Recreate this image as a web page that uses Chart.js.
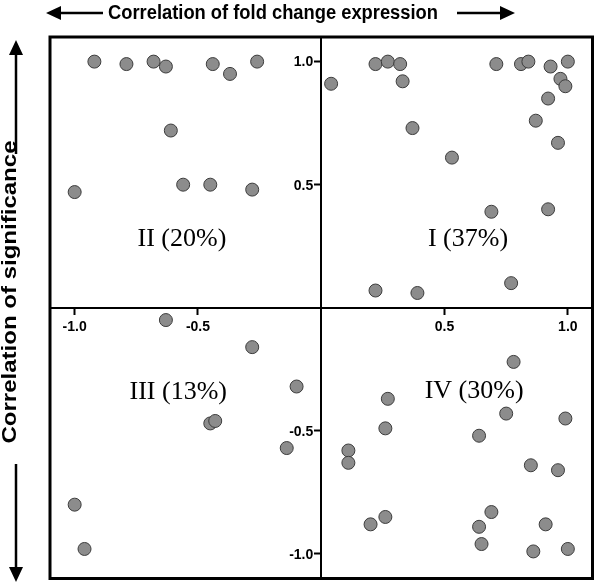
<!DOCTYPE html>
<html>
<head>
<meta charset="utf-8">
<script src="https://cdn.jsdelivr.net/npm/chart.js@4.4.1/dist/chart.umd.min.js"></script>
<style>
  html, body { margin: 0; padding: 0; background: #fff; }
  #wrap { width: 600px; height: 586px; }
</style>
</head>
<body>
<div id="wrap"><canvas id="quadChart"></canvas></div>
<script>
// ── Data ──────────────────────────────────────────────────────
// x = correlation of fold change expression, y = correlation of significance
const foldCorr = [
  // II
  -0.92, -0.79, -0.68, -0.63, -0.44, -0.37, -0.26, -0.61, -0.56, -0.45, -0.28, -1.00,
  // I
  0.04, 0.22, 0.27, 0.32, 0.33, 0.37, 0.53, 0.71, 0.81, 0.84, 0.93, 1.00,
  0.97, 0.99, 0.92, 0.87, 0.96, 0.69, 0.92, 0.22, 0.39, 0.77,
  // III
  -0.63, -0.28, -0.10, -0.45, -0.43, -0.14, -1.00, -0.96,
  // IV
  0.78, 0.27, 0.26, 0.11, 0.11, 0.75, 0.99, 0.64, 0.85, 0.96,
  0.20, 0.26, 0.69, 0.64, 0.65, 0.91, 0.86, 1.00,
];
const sigCorr = [
  1.00, 0.99, 1.00, 0.98, 0.99, 0.95, 1.00, 0.72, 0.50, 0.50, 0.48, 0.47,
  0.91, 0.99, 1.00, 0.99, 0.92, 0.73, 0.61, 0.99, 0.99, 1.00, 0.98, 1.00,
  0.93, 0.90, 0.85, 0.76, 0.67, 0.39, 0.40, 0.07, 0.06, 0.10,
  -0.05, -0.16, -0.32, -0.47, -0.46, -0.57, -0.80, -0.98,
  -0.22, -0.37, -0.49, -0.58, -0.63, -0.43, -0.45, -0.52, -0.64, -0.66,
  -0.88, -0.85, -0.83, -0.89, -0.96, -0.88, -0.99, -0.98,
];
const xTicks = [-1.0, -0.5, 0.5, 1.0];
const yTicks = [-1.0, -0.5, 0.5, 1.0];
const quadLabels = ['II (20%)', 'I (37%)', 'III (13%)', 'IV (30%)'];
const quadLabelX = [-0.565, 0.595, -0.58, 0.62];
const quadLabelY = [0.28, 0.28, -0.345, -0.34];

const SANS = '"Liberation Sans", Arial, sans-serif';
const SERIF = '"Liberation Serif", "Times New Roman", serif';
const TICK_FONT = `bold 14px ${SANS}`;

function drawArrow(ctx, x1, y1, x2, y2) {
  const ang = Math.atan2(y2 - y1, x2 - x1);
  const head = 15, half = 7;
  const bx = x2 - head * Math.cos(ang), by = y2 - head * Math.sin(ang);
  ctx.beginPath();
  ctx.moveTo(x1, y1);
  ctx.lineTo(bx, by);
  ctx.lineWidth = 2.5;
  ctx.stroke();
  ctx.beginPath();
  ctx.moveTo(x2, y2);
  ctx.lineTo(bx + half * Math.sin(ang), by - half * Math.cos(ang));
  ctx.lineTo(bx - half * Math.sin(ang), by + half * Math.cos(ang));
  ctx.closePath();
  ctx.fill();
}

// text squeezed/stretched along its run to a given length
function fitText(ctx, text, cx, cy, len, rot) {
  const w = ctx.measureText(text).width;
  ctx.save();
  ctx.translate(cx, cy);
  ctx.rotate(rot);
  ctx.scale(len / w, 1);
  ctx.fillText(text, 0, 0);
  ctx.restore();
}

// frame, y tick labels, quadrant labels and outer titles
const decorations = {
  id: 'decorations',
  afterDatasetsDraw(chart) {
    const { ctx, chartArea: a, scales: { x, y } } = chart;
    ctx.save();
    ctx.strokeStyle = '#000';
    ctx.fillStyle = '#000';
    ctx.lineWidth = 3;
    ctx.strokeRect(a.left, a.top, a.right - a.left, a.bottom - a.top);

    // y tick labels sit left of the centred axis, past the tick mark
    ctx.font = TICK_FONT;
    ctx.textAlign = 'right';
    ctx.textBaseline = 'middle';
    const x0 = x.getPixelForValue(0);
    yTicks.forEach(v => ctx.fillText(v.toFixed(1), x0 - 8, y.getPixelForValue(v) + 1));

    ctx.font = `26px ${SERIF}`;
    ctx.textAlign = 'center';
    quadLabels.forEach((t, i) => {
      ctx.fillText(t, x.getPixelForValue(quadLabelX[i]), y.getPixelForValue(quadLabelY[i]));
    });

    // top title with arrows
    ctx.font = `bold 20px ${SANS}`;
    fitText(ctx, 'Correlation of fold change expression', 273, 13, 330, 0);
    drawArrow(ctx, 103, 13, 46, 13);
    drawArrow(ctx, 457, 13, 515, 13);

    // left title with arrows
    ctx.font = `bold 20px ${SANS}`;
    fitText(ctx, 'Correlation of significance', 10, 292, 303, -Math.PI / 2);
    drawArrow(ctx, 16, 154, 16, 40);
    drawArrow(ctx, 16, 464, 16, 582);
    ctx.restore();
  }
};

const axisCommon = (ticks) => ({
  type: 'linear',
  min: -1.1,
  max: 1.1,
  afterBuildTicks: s => { s.ticks = ticks.map(v => ({ value: v })); },
  grid: { drawOnChartArea: false, drawTicks: true, tickLength: 6, tickWidth: 2, tickColor: '#000' },
  border: { color: '#000', width: 2 },
  ticks: {
    autoSkip: false, maxRotation: 0, padding: 5, color: '#000',
    font: { family: SANS, weight: 'bold', size: 14 },
    callback: v => v.toFixed(1),
  },
});

new Chart(document.getElementById('quadChart'), {
  type: 'scatter',
  data: {
    datasets: [{
      data: foldCorr.map((v, i) => ({ x: v, y: sigCorr[i] })),
      backgroundColor: '#8c8c8c',
      borderColor: '#3c3c3c',
      borderWidth: 1,
      pointRadius: 6.5,
    }],
  },
  options: {
    responsive: true, maintainAspectRatio: false, animation: false,
    layout: { padding: { left: 50, top: 37, right: 4, bottom: 4 } },
    plugins: { legend: { display: false }, tooltip: { enabled: false } },
    scales: {
      x: { ...axisCommon(xTicks), position: { y: 0 } },
      y: { ...axisCommon(yTicks), position: { x: 0 }, ticks: { ...axisCommon(yTicks).ticks, display: false } },
    },
  },
  plugins: [decorations],
});
</script>
</body>
</html>
